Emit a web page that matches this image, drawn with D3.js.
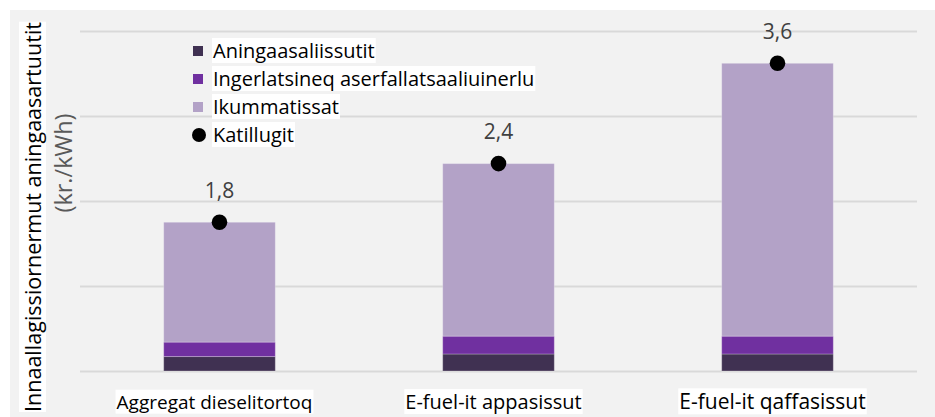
<!DOCTYPE html>
<html>
<head>
<meta charset="utf-8">
<script src="https://cdn.jsdelivr.net/npm/d3@7"></script>
<style>
  body { margin: 0; background: #ffffff; }
  svg text { font-family: "Open Sans", "Noto Sans", sans-serif; }
</style>
</head>
<body>
<div id="chart"></div>
<script>
// chart values
var categories = ["Aggregat dieselitortoq", "E-fuel-it appasissut", "E-fuel-it qaffasissut"];
var seriesNames = ["Aningaasaliissutit", "Ingerlatsineq aserfallatsaaliuinerlu", "Ikummatissat"];
var investment = [0.17, 0.20, 0.20];
var operation = [0.17, 0.21, 0.21];
var fuel = [1.41, 2.03, 3.21];
var totals = [1.75, 2.44, 3.62];
var totalLabels = ["1,8", "2,4", "3,6"];
var totalName = "Katillugit";
var yTicks = [0, 1, 2, 3, 4];
var yTitle = "Innaallagissiornermut aningaasartuutit";
var yUnit = "(kr./kWh)";

// styling
var colors = ["#403152", "#7030a0", "#b3a2c7"];
var catFontSizes = [19, 20, 21]; // the category labels are not all the same size in the original

var width = 935, height = 417;
var svg = d3.select("#chart").append("svg")
    .attr("width", width)
    .attr("height", height);

// grey chart area
svg.append("rect")
    .attr("x", 10).attr("y", 10)
    .attr("width", width - 10).attr("height", height - 10)
    .attr("fill", "#f2f2f2");

var x = d3.scaleBand()
    .domain(categories)
    .range([80, 917])
    .paddingInner(0.6)
    .paddingOuter(0.3);

var y = d3.scaleLinear()
    .domain([0, 4])
    .range([371, 31]);

// gridlines
var yAxis = d3.axisLeft(y).tickValues(yTicks).tickSize(-(917 - 80)).tickFormat("");
var gy = svg.append("g")
    .attr("transform", "translate(80,0)")
    .call(yAxis);
gy.select(".domain").remove();
gy.selectAll(".tick line").attr("stroke", "#d9d9d9").attr("stroke-width", 2);

// stacked bars
var rows = categories.map(function(c, i) {
    return { cat: c, a: investment[i], b: operation[i], c: fuel[i] };
});
var stack = d3.stack().keys(["a", "b", "c"]);
var layers = stack(rows);

svg.append("g").selectAll("g")
    .data(layers)
    .join("g")
    .attr("fill", function(d, i) { return colors[i]; })
    .selectAll("rect")
    .data(function(d) { return d; })
    .join("rect")
    .attr("x", function(d) { return x(d.data.cat); })
    .attr("y", function(d) { return y(d[1]); })
    .attr("width", x.bandwidth())
    .attr("height", function(d) { return y(d[0]) - y(d[1]); })
    .attr("stroke", "rgba(255,255,255,0.25)")
    .attr("stroke-width", 1);

// total dots
svg.append("g").selectAll("circle")
    .data(totals)
    .join("circle")
    .attr("cx", function(d, i) { return x(categories[i]) + x.bandwidth() / 2; })
    .attr("cy", function(d) { return y(d); })
    .attr("r", 7.8)
    .attr("fill", "#000");

svg.append("g").selectAll("text")
    .data(totals)
    .join("text")
    .attr("x", function(d, i) { return x(categories[i]) + x.bandwidth() / 2; })
    .attr("y", function(d) { return y(d) - 32; })
    .attr("dy", "0.35em")
    .attr("text-anchor", "middle")
    .attr("font-size", 21)
    .attr("fill", "#404040")
    .text(function(d, i) { return totalLabels[i]; });

// white boxes behind text
function whiteBox(sel, padX, padY) {
    sel.each(function() {
        var bb = this.getBBox();
        var parent = this.parentNode;
        d3.select(parent).insert("rect", function() { return parent.firstChild; })
            .attr("x", bb.x - padX).attr("y", bb.y - padY)
            .attr("width", bb.width + 2 * padX).attr("height", bb.height + 2 * padY)
            .attr("fill", "#fff");
    });
}

// category labels
var catG = svg.append("g").selectAll("g")
    .data(categories)
    .join("g");
catG.append("text")
    .attr("x", function(d) { return x(d) + x.bandwidth() / 2 - 5; })
    .attr("y", 402)
    .attr("dy", "0.35em")
    .attr("text-anchor", "middle")
    .attr("font-size", function(d, i) { return catFontSizes[i]; })
    .attr("fill", "#000")
    .text(function(d) { return d; });
whiteBox(catG.selectAll("text"), 1, -1);

// y axis title (the original squeezes it into the full height)
var titleG = svg.append("g").attr("transform", "translate(33.5,217) rotate(-90)");
titleG.append("text")
    .attr("text-anchor", "middle")
    .attr("dy", "0.35em")
    .attr("font-size", 21.5)
    .attr("textLength", 390)
    .attr("lengthAdjust", "spacingAndGlyphs")
    .attr("fill", "#000")
    .text(yTitle);
whiteBox(titleG.selectAll("text"), 0, -1);

svg.append("text")
    .attr("transform", "translate(64,163) rotate(-90)")
    .attr("text-anchor", "middle")
    .attr("dy", "0.35em")
    .attr("font-size", 23.5)
    .attr("fill", "#595959")
    .text(yUnit);

// legend
var legendItems = seriesNames.map(function(n, i) { return { name: n, color: colors[i], dot: false }; });
legendItems.push({ name: totalName, color: "#000", dot: true });

var items = svg.append("g").selectAll("g")
    .data(legendItems)
    .join("g")
    .attr("transform", function(d, i) { return "translate(0," + (51 + i * 28) + ")"; });

items.filter(function(d) { return !d.dot; })
    .append("rect")
    .attr("x", 193).attr("y", -5)
    .attr("width", 10).attr("height", 10)
    .attr("fill", function(d) { return d.color; });

items.filter(function(d) { return d.dot; })
    .append("circle")
    .attr("cx", 199).attr("cy", 0)
    .attr("r", 7)
    .attr("fill", "#000");

items.append("text")
    .attr("x", 213)
    .attr("dy", "0.35em")
    .attr("font-size", 20)
    .attr("fill", "#000")
    .text(function(d) { return d.name; });
whiteBox(items.selectAll("text"), 1, -1);
</script>
</body>
</html>
